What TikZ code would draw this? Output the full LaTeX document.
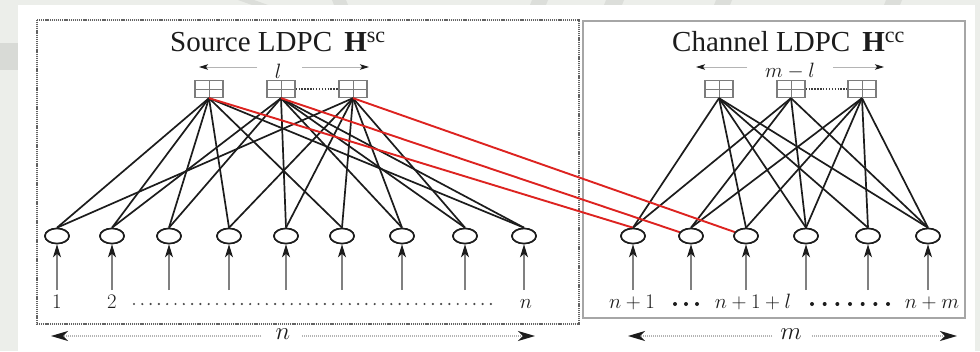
\documentclass[tikz,border=0pt]{standalone}
\usepackage[no-math]{fontspec}
\newfontfamily\tnr{Liberation Serif}
\usetikzlibrary{arrows.meta,shapes.geometric}

\definecolor{pagegray}{HTML}{ECEEEA}
\definecolor{stripgray}{HTML}{D8DAD6}
\definecolor{markgray}{HTML}{DCDEDA}
\definecolor{ink}{HTML}{1C1C1C}
\definecolor{boxgray}{HTML}{7C7C7C}
\definecolor{edgered}{HTML}{DD2320}
\definecolor{dimgray}{HTML}{B4B4B4}

\tikzset{
  chk/.style={draw=boxgray, line width=1.3pt, minimum width=28pt, minimum height=17pt,
    inner sep=0pt,
    path picture={\draw[boxgray, line width=0.9pt]
      (path picture bounding box.west) -- (path picture bounding box.east)
      (path picture bounding box.north) -- (path picture bounding box.south);}},
  var/.style={draw=ink, ellipse, line width=1.6pt, minimum width=24pt,
    minimum height=15pt, inner sep=0pt, fill=white},
  edge/.style={draw=ink, line width=1.7pt},
  rededge/.style={draw=edgered, line width=1.9pt},
  feed/.style={draw=gray, line width=1.4pt,
    -{Stealth[length=13pt,width=8pt,inset=3.5pt,color=ink]}},
  dimtop/.style={draw=dimgray, line width=1pt,
    -{Stealth[length=9pt,width=5.5pt,inset=2pt,color=ink]}},
  dimbot/.style={draw=dimgray, line width=1.5pt, dash pattern=on 1pt off 1pt,
    -{Stealth[length=17pt,width=10pt,inset=5pt,color=ink]}},
  linkdots/.style={draw=ink!85, line width=1.5pt, dash pattern=on 1.4pt off 1.5pt},
  smalldots/.style={draw=ink!80, line width=2.4pt, line cap=round, dash pattern=on 0pt off 8.3pt},
  bigdots/.style={draw=ink, line width=4pt, line cap=round},
  ttl/.style={font=\tnr\fontsize{29}{34}\selectfont, text=ink, inner sep=0pt, anchor=base west},
  lab/.style={font=\fontsize{21.5}{24}\selectfont, text=ink, inner sep=0pt, anchor=base},
  dimlab/.style={font=\fontsize{21}{24}\selectfont, text=ink, inner sep=0pt},
  biglab/.style={font=\fontsize{26}{28}\selectfont, text=ink, inner sep=0pt},
}

\begin{document}
\begin{tikzpicture}[x=1pt,y=-1pt]
  % page and panel
  \fill[pagegray] (0,0) rectangle (980,351);
  \fill[stripgray] (0,43) rectangle (18,70);
  \fill[markgray] (238,0) -- (254,0) -- (268,5) -- (252,5) -- cycle;
  \fill[markgray] (332,0) -- (346,0) -- (348,5) -- (334,5) -- cycle;
  \fill[markgray] (532,0) -- (548,0) -- (546,5) -- (530,5) -- cycle;
  \fill[markgray] (606,0) -- (624,0) -- (622,5) -- (604,5) -- cycle;
  \fill[markgray] (716,0) -- (732,0) -- (730,5) -- (714,5) -- cycle;
  \fill[markgray] (886,0) -- (902,0) -- (900,5) -- (884,5) -- cycle;
  \fill[white] (18,5) rectangle (975,351);
  \useasboundingbox (0,0) rectangle (980,351);

  % the two code frames
  \draw[boxgray!80!black, line width=1.8pt, dash pattern=on 1.1pt off 0.8pt]
    (37,20) rectangle (579,324);
  \draw[gray!70, line width=1.6pt] (583,21) rectangle (965,318);

  % titles
  \node[ttl] (srcT) at (170,51)
    {Source LDPC\hspace{0.42em}\textbf{H}\raisebox{9pt}{\fontsize{22}{22}\selectfont sc}};
  \node[ttl] (chT) at (672,51)
    {Channel LDPC\hspace{0.42em}\textbf{H}\raisebox{9pt}{\fontsize{22}{22}\selectfont cc}};

  % check-node counts
  \node[dimlab] (lcnt) at (278,71) {$l$};
  \coordinate (lcL) at (257,67);  \coordinate (lcLe) at (199,67);
  \coordinate (lcR) at (302,67);  \coordinate (lcRe) at (369,67);
  \draw[dimtop] (lcL) -- (lcLe);
  \draw[dimtop] (lcR) -- (lcRe);

  \node[dimlab] (mlcnt) at (790,71) {$m-l$};
  \coordinate (mcL) at (747,67);  \coordinate (mcLe) at (696,67);
  \coordinate (mcR) at (833,67);  \coordinate (mcRe) at (884,67);
  \draw[dimtop] (mcL) -- (mcLe);
  \draw[dimtop] (mcR) -- (mcRe);

  % check nodes
  \node[chk] (c1) at (209,89) {};
  \node[chk] (c2) at (281,89) {};
  \node[chk] (c3) at (353,89) {};
  \node[chk] (d1) at (719,89) {};
  \node[chk] (d2) at (791,89) {};
  \node[chk] (d3) at (862,89) {};
  \draw[linkdots] (c2.east) -- (c3.west);
  \draw[linkdots] (d2.east) -- (d3.west);

  % variable nodes
  \foreach \i/\x in {1/57,2/112,3/169,4/229,5/286,6/342,7/402,8/465,9/524}{
    \node[var] (v\i) at (\x,236) {};
    \coordinate (tv\i) at (\x,290);
  }
  \foreach \i/\x in {1/633,2/691,3/746,4/806,5/868,6/928}{
    \node[var] (w\i) at (\x,236) {};
    \coordinate (tw\i) at (\x,290);
  }

  % source graph edges
  \foreach \a/\b in {c1/v1,c1/v2,c1/v3,c1/v4,c1/v6,c1/v9,
                     c2/v2,c2/v3,c2/v5,c2/v7,c2/v8,c2/v9,
                     c3/v1,c3/v4,c3/v5,c3/v6,c3/v7,c3/v8}
    \draw[edge] (\a.south) -- (\b.north);

  % channel graph edges
  \foreach \a/\b in {d1/w1,d1/w3,d1/w4,d1/w5,d1/w6,
                     d2/w1,d2/w2,d2/w4,d2/w6,
                     d3/w2,d3/w3,d3/w4,d3/w5,d3/w6}
    \draw[edge] (\a.south) -- (\b.north);

  % source checks feeding the first channel bits
  \draw[rededge] (c1.south) -- (w1.north);
  \draw[rededge] (c2.south) -- (w2);
  \draw[rededge] (c3.south) -- (w3);

  % redraw the variable nodes over the edge ends
  \foreach \i in {1,...,9} \node[var] at (v\i) {};
  \foreach \i in {1,...,6} \node[var] at (w\i) {};

  % inputs
  \foreach \i in {1,...,9} \draw[feed] (tv\i) -- (v\i.south);
  \foreach \i in {1,...,6} \draw[feed] (tw\i) -- (w\i.south);

  % bit indices
  \node[lab] (i1) at (57,308) {$1$};
  \node[lab] (i2) at (112,308) {$2$};
  \node[lab] (in) at (526,308) {$n$};
  \coordinate (sdA) at (134,304);
  \coordinate (sdB) at (499,304);
  \draw[smalldots] (sdA) -- (sdB);

  \node[lab] (j1) at (632,308) {$n+1$};
  \node[lab] (jl) at (753,308) {$n+1+l$};
  \node[lab] (jm) at (932,308) {$n+m$};
  \coordinate (bdA) at (675,304);
  \coordinate (bdB) at (697.6,304);
  \draw[bigdots, dash pattern=on 0pt off 11pt] (bdA) -- (bdB);
  \coordinate (bdC) at (812,304);
  \coordinate (bdD) at (888.6,304);
  \draw[bigdots, dash pattern=on 0pt off 12.67pt] (bdC) -- (bdD);

  % code lengths
  \node[biglab] (nlen) at (283,334) {$n$};
  \coordinate (nlA) at (261,336);  \coordinate (nlAe) at (51,336);
  \coordinate (nlB) at (302,336);  \coordinate (nlBe) at (535,336);
  \draw[dimbot] (nlA) -- (nlAe);
  \draw[dimbot] (nlB) -- (nlBe);

  \node[biglab] (mlen) at (791,334) {$m$};
  \coordinate (mlA) at (772,336);  \coordinate (mlAe) at (628,336);
  \coordinate (mlB) at (812,336);  \coordinate (mlBe) at (957,336);
  \draw[dimbot] (mlA) -- (mlAe);
  \draw[dimbot] (mlB) -- (mlBe);
\end{tikzpicture}
\end{document}
